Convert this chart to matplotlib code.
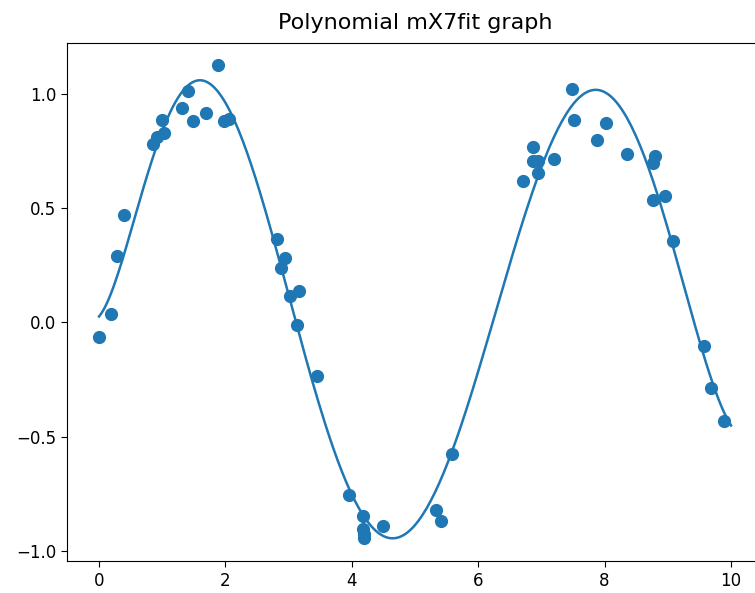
import numpy as np
import matplotlib
matplotlib.use("Agg")
import matplotlib.pyplot as plt

# scatter points
x_points = [0.00, 0.19, 0.28, 0.40, 0.86, 0.91, 1.03, 0.99, 1.31, 1.40,
            1.48, 1.70, 1.88, 1.98, 2.06, 2.81, 2.94, 2.88, 3.02, 3.17,
            3.14, 3.45, 3.96, 4.18, 4.18, 4.19, 4.20, 4.49, 5.33, 5.41,
            5.59, 6.71, 6.86, 6.86, 6.94, 6.94, 7.20, 7.48, 7.51, 7.88,
            8.02, 8.35, 8.80, 8.77, 8.77, 8.96, 9.08, 9.57, 9.69, 9.89]
y_points = [-0.065, 0.037, 0.291, 0.470, 0.781, 0.813, 0.831, 0.886, 0.940, 1.013,
            0.882, 0.918, 1.127, 0.882, 0.891, 0.364, 0.284, 0.240, 0.116, 0.138,
            -0.012, -0.233, -0.755, -0.845, -0.905, -0.925, -0.945, -0.889, -0.821, -0.867,
            -0.576, 0.621, 0.769, 0.708, 0.708, 0.656, 0.714, 1.022, 0.886, 0.799,
            0.874, 0.737, 0.729, 0.697, 0.536, 0.555, 0.358, -0.103, -0.288, -0.430]

degree = 7
x_line = np.linspace(0, 10, 300)
coeffs = np.polyfit(x_points, y_points, degree)
y_line = np.polyval(coeffs, x_line)

fig = plt.figure(figsize=(7.55, 5.93), dpi=100)
ax = fig.add_axes([0.0893, 0.054, 0.9208, 0.8735])

ax.scatter(x_points, y_points, s=72, color="#1f77b4", zorder=2)
ax.plot(x_line, y_line, color="#1f77b4", linewidth=1.8, zorder=2)

ax.set_xlim(-0.5, 10.5)
ax.set_ylim(-1.044, 1.223)
ax.set_xticks([0, 2, 4, 6, 8, 10])
ax.set_yticks([-1.0, -0.5, 0.0, 0.5, 1.0])
ax.tick_params(labelsize=12, length=4.5)
ax.set_title("Polynomial mX7fit graph", fontsize=16, pad=10)

fig.savefig("out.png", dpi=100)
